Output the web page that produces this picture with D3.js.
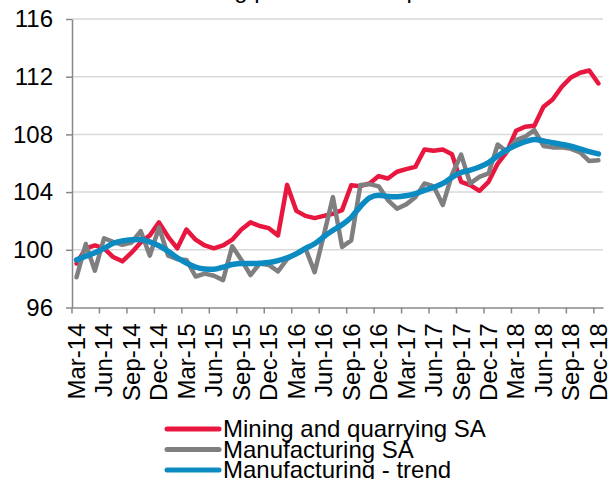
<!DOCTYPE html>
<html>
<head>
<meta charset="utf-8">
<style>
  body { margin: 0; background: #fff; }
  text { font-family: "Liberation Sans", Arial, sans-serif; }
</style>
</head>
<body>
<script src="https://cdn.jsdelivr.net/npm/d3@7"></script>
<div id="chart"></div>
<script>
// months, one per category (Mar-14 .. Dec-18)
var months = [
  "Mar-14","Apr-14","May-14","Jun-14","Jul-14","Aug-14","Sep-14","Oct-14","Nov-14","Dec-14",
  "Jan-15","Feb-15","Mar-15","Apr-15","May-15","Jun-15","Jul-15","Aug-15","Sep-15","Oct-15","Nov-15","Dec-15",
  "Jan-16","Feb-16","Mar-16","Apr-16","May-16","Jun-16","Jul-16","Aug-16","Sep-16","Oct-16","Nov-16","Dec-16",
  "Jan-17","Feb-17","Mar-17","Apr-17","May-17","Jun-17","Jul-17","Aug-17","Sep-17","Oct-17","Nov-17","Dec-17",
  "Jan-18","Feb-18","Mar-18","Apr-18","May-18","Jun-18","Jul-18","Aug-18","Sep-18","Oct-18","Nov-18","Dec-18"
];

var tickLabels = ["Mar-14","Jun-14","Sep-14","Dec-14","Mar-15","Jun-15","Sep-15","Dec-15","Mar-16","Jun-16",
  "Sep-16","Dec-16","Mar-17","Jun-17","Sep-17","Dec-17","Mar-18","Jun-18","Sep-18","Dec-18"];

var yTicks = [96, 100, 104, 108, 112, 116];

var mining = [
  99.05, 100.1, 100.3, 100.1, 99.5, 99.2, 99.8, 100.5, 101.0, 101.9,
  100.9, 100.1, 101.4, 100.7, 100.3, 100.1, 100.3, 100.7, 101.4, 101.9, 101.65, 101.5,
  101.0, 104.5, 102.7, 102.35, 102.2, 102.35, 102.5, 102.75, 104.48, 104.41, 104.6, 105.11,
  104.94, 105.41, 105.59, 105.75, 106.95, 106.86, 106.95, 106.63, 104.71, 104.48, 104.09, 104.71,
  105.98, 106.79, 108.25, 108.53, 108.6, 109.91, 110.42, 111.3, 111.95, 112.27, 112.43, 111.53
];

var manufacturing = [
  98.1, 100.4, 98.55, 100.8, 100.55, 100.35, 100.5, 101.3, 99.6, 101.55,
  99.6, 99.35, 99.3, 98.15, 98.35, 98.2, 97.9, 100.25, 99.3, 98.25, 99.05, 98.95,
  98.5, 99.35, 99.75, 100.1, 98.45, 101.0, 103.65, 100.2, 100.65, 104.5, 104.55, 104.4,
  103.45, 102.85, 103.15, 103.65, 104.6, 104.4, 103.1, 105.2, 106.6, 104.6, 105.05, 105.3,
  107.3, 106.8, 107.6, 107.85, 108.3, 107.2, 107.1, 107.1, 107.0, 106.75, 106.15, 106.2
];

var trend = [
  99.3, 99.55, 99.8, 100.1, 100.45, 100.62, 100.7, 100.72, 100.55, 100.28,
  99.9, 99.45, 99.08, 98.8, 98.67, 98.65, 98.8, 98.98, 99.05, 99.05, 99.07, 99.12,
  99.25, 99.45, 99.72, 100.1, 100.42, 100.9, 101.35, 101.74, 102.25, 103.0, 103.6, 103.78,
  103.7, 103.67, 103.75, 103.9, 104.12, 104.33, 104.6, 105.02, 105.36, 105.52, 105.74, 106.05,
  106.5, 106.93, 107.25, 107.5, 107.64, 107.55, 107.42, 107.31, 107.18, 107.0, 106.8, 106.65
];

var seriesNames = ["Mining and quarrying SA", "Manufacturing SA", "Manufacturing - trend"];
var seriesColors = ["#e8173f", "#7f7f81", "#0b8bc2"];
var seriesValues = [mining, manufacturing, trend];

var W = 613, H = 479;
var svg = d3.select("#chart").append("svg")
    .attr("width", W)
    .attr("height", H);

var x = d3.scaleBand().domain(months).range([72, 603]).padding(0);
var y = d3.scaleLinear().domain([96, 116]).range([307.5, 19]);

// title (sits above the visible area, only descenders show)
svg.append("text")
    .attr("x", 177)
    .attr("y", -2.5)
    .style("font-size", "24px")
    .text("Mining production outpaces the rest");

// gridlines
svg.append("g")
  .selectAll("line")
  .data(yTicks.slice(1))
  .enter().append("line")
    .attr("x1", 72).attr("x2", 603)
    .attr("y1", function(d) { return y(d); })
    .attr("y2", function(d) { return y(d); })
    .attr("stroke", "#d9d9d9")
    .attr("stroke-width", 1.5);

// y axis
var yAxis = svg.append("g")
    .attr("transform", "translate(72,0)")
    .call(d3.axisLeft(y).tickValues(yTicks).tickSize(6).tickSizeOuter(0).tickPadding(13));
yAxis.selectAll("path, line").attr("stroke", "#888").attr("stroke-width", 1.5);
yAxis.selectAll("text")
    .style("font-size", "24px")
    .attr("fill", "#000");

// x axis
var xAxis = svg.append("g")
    .attr("transform", "translate(0," + y(96) + ")")
    .call(d3.axisBottom(x).tickValues(tickLabels).tickSize(6).tickSizeOuter(0));
xAxis.selectAll("path, line").attr("stroke", "#888").attr("stroke-width", 1.5);
xAxis.selectAll(".tick line")
    .attr("transform", "translate(" + (-x.bandwidth() / 2) + ",0)");
xAxis.selectAll(".tick text")
    .style("font-size", "24px")
    .attr("fill", "#000")
    .attr("text-anchor", "end")
    .attr("transform", "rotate(-90)")
    .attr("x", -16)
    .attr("y", 0)
    .attr("dy", "0.35em");

// lines
var line = d3.line()
    .x(function(d, i) { return x(months[i]) + x.bandwidth() / 2; })
    .y(function(d) { return y(d); });

var widths = [4.5, 4.5, 5.5];
seriesValues.forEach(function(vals, k) {
  svg.append("path")
    .datum(vals)
    .attr("fill", "none")
    .attr("stroke", seriesColors[k])
    .attr("stroke-width", widths[k])
    .attr("stroke-linejoin", "round")
    .attr("stroke-linecap", "round")
    .attr("d", k == 2 ? line.curve(d3.curveMonotoneX)(vals) : line.curve(d3.curveLinear)(vals));
});

// legend
var legendY = [429, 449.5, 470];
var legend = svg.append("g");
seriesNames.forEach(function(name, k) {
  legend.append("line")
    .attr("x1", 167).attr("x2", 219)
    .attr("y1", legendY[k]).attr("y2", legendY[k])
    .attr("stroke", seriesColors[k])
    .attr("stroke-width", 5)
    .attr("stroke-linecap", "round");
  legend.append("text")
    .attr("x", 223)
    .attr("y", legendY[k])
    .attr("dy", "0.35em")
    .style("font-size", "24px")
    .text(name);
});
</script>
</body>
</html>
